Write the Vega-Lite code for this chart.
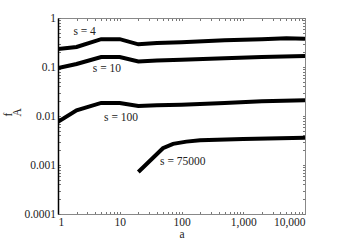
{
  "$schema": "https://vega.github.io/schema/vega-lite/v6.json",
  "width": 247,
  "height": 196,
  "autosize": "none",
  "padding": {"left": 58, "top": 18, "right": 32, "bottom": 28},
  "background": "white",
  "config": {
    "font": "Liberation Serif",
    "view": {"stroke": "#888", "strokeWidth": 1},
    "axis": {"grid": false, "labelFont": "Liberation Serif", "titleFont": "Liberation Serif", "labelColor": "#222", "titleColor": "#222", "titleFontWeight": "normal", "labelFontSize": 11.5, "titleFontSize": 11.5, "tickColor": "#777", "tickSize": -2.5, "labelPadding": 5}
  },
  "datasets": {
    "curves": [
      {"s": "4", "a": 1, "f": 0.233}, {"s": "4", "a": 2, "f": 0.256}, {"s": "4", "a": 5, "f": 0.37}, {"s": "4", "a": 10, "f": 0.37}, {"s": "4", "a": 20, "f": 0.29}, {"s": "4", "a": 40, "f": 0.31}, {"s": "4", "a": 100, "f": 0.32}, {"s": "4", "a": 500, "f": 0.35}, {"s": "4", "a": 2000, "f": 0.37}, {"s": "4", "a": 5000, "f": 0.385}, {"s": "4", "a": 10000, "f": 0.375},
      {"s": "10", "a": 1, "f": 0.095}, {"s": "10", "a": 2, "f": 0.115}, {"s": "10", "a": 5, "f": 0.16}, {"s": "10", "a": 10, "f": 0.16}, {"s": "10", "a": 20, "f": 0.13}, {"s": "10", "a": 40, "f": 0.135}, {"s": "10", "a": 100, "f": 0.14}, {"s": "10", "a": 500, "f": 0.15}, {"s": "10", "a": 2000, "f": 0.16}, {"s": "10", "a": 10000, "f": 0.168},
      {"s": "100", "a": 1, "f": 0.0076}, {"s": "100", "a": 2, "f": 0.013}, {"s": "100", "a": 5, "f": 0.0185}, {"s": "100", "a": 10, "f": 0.0185}, {"s": "100", "a": 20, "f": 0.016}, {"s": "100", "a": 40, "f": 0.0165}, {"s": "100", "a": 100, "f": 0.017}, {"s": "100", "a": 500, "f": 0.0185}, {"s": "100", "a": 2000, "f": 0.02}, {"s": "100", "a": 10000, "f": 0.021},
      {"s": "75000", "a": 20, "f": 0.00072}, {"s": "75000", "a": 50, "f": 0.0022}, {"s": "75000", "a": 73, "f": 0.0027}, {"s": "75000", "a": 120, "f": 0.003}, {"s": "75000", "a": 200, "f": 0.0032}, {"s": "75000", "a": 1000, "f": 0.0034}, {"s": "75000", "a": 10000, "f": 0.0036}
    ],
    "labels": [
      {"label": "s = 4", "a": 2.7, "f": 0.52},
      {"label": "s = 10", "a": 6.2, "f": 0.091},
      {"label": "s = 100", "a": 10.5, "f": 0.0091},
      {"label": "s = 75000", "a": 105, "f": 0.00115}
    ]
  },
  "layer": [
    {
      "data": {"name": "curves"},
      "mark": {"type": "line", "color": "black", "strokeWidth": 4, "clip": true},
      "encoding": {
        "x": {"field": "a", "type": "quantitative", "scale": {"type": "log", "domain": [1, 10000], "nice": false},
          "axis": {"orient": "bottom", "title": "a", "titlePadding": 0, "format": ",", "domainColor": "#888",
            "values": [1,2,3,4,5,6,7,8,9,10,20,30,40,50,60,70,80,90,100,200,300,400,500,600,700,800,900,1000,2000,3000,4000,5000,6000,7000,8000,9000,10000],
            "labelExpr": "abs(log(datum.value)/LN10 - round(log(datum.value)/LN10)) < 1e-6 ? datum.label : ''"}},
        "y": {"field": "f", "type": "quantitative", "scale": {"type": "log", "domain": [0.0001, 1], "nice": false},
          "axis": {"orient": "left", "title": ["f", "\u00a0\u00a0\u00a0A"], "titleAlign": "left", "titleLineHeight": 9, "titleAnchor": "middle", "titlePadding": 1, "format": "~g", "domainColor": "black", "domainWidth": 1.5,
            "values": [0.0001,0.0002,0.0003,0.0004,0.0005,0.0006,0.0007,0.0008,0.0009,0.001,0.002,0.003,0.004,0.005,0.006,0.007,0.008,0.009,0.01,0.02,0.03,0.04,0.05,0.06,0.07,0.08,0.09,0.1,0.2,0.3,0.4,0.5,0.6,0.7,0.8,0.9,1],
            "labelExpr": "abs(log(datum.value)/LN10 - round(log(datum.value)/LN10)) < 1e-6 ? datum.label : ''"}},
        "detail": {"field": "s"}
      }
    },
    {
      "data": {"name": "labels"},
      "mark": {"type": "text", "font": "Liberation Serif", "fontSize": 11.5, "color": "#222"},
      "encoding": {
        "x": {"field": "a", "type": "quantitative",
          "axis": {"orient": "top", "title": null, "labels": false, "domainColor": "#888",
            "values": [1,2,3,4,5,6,7,8,9,10,20,30,40,50,60,70,80,90,100,200,300,400,500,600,700,800,900,1000,2000,3000,4000,5000,6000,7000,8000,9000,10000]}},
        "y": {"field": "f", "type": "quantitative",
          "axis": {"orient": "right", "title": null, "labels": false, "domainColor": "#888",
            "values": [0.0001,0.0002,0.0003,0.0004,0.0005,0.0006,0.0007,0.0008,0.0009,0.001,0.002,0.003,0.004,0.005,0.006,0.007,0.008,0.009,0.01,0.02,0.03,0.04,0.05,0.06,0.07,0.08,0.09,0.1,0.2,0.3,0.4,0.5,0.6,0.7,0.8,0.9,1]}},
        "text": {"field": "label"}
      }
    }
  ],
  "resolve": {"axis": {"x": "independent", "y": "independent"}}
}
